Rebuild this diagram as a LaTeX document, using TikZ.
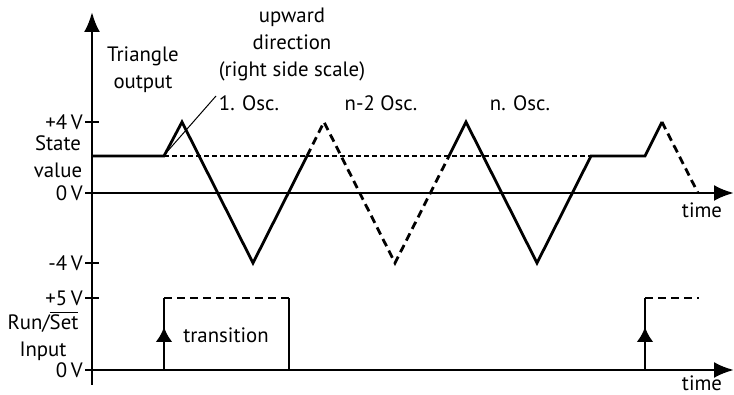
\documentclass[tikz,border=0pt]{standalone}
\usepackage{fontspec}
\setmainfont{PT Sans}
\usetikzlibrary{
    arrows.meta
}
\tikzset{
    axis/.style={
        -{Latex[length=10pt, width=8pt]},
        line width=1.4pt
    },
    wave/.style={
        line width=1.4pt,
        line join=miter
    },
    dashedwave/.style={
        wave,
        dash pattern=on 4pt off 2.5pt
    },
    level/.style={
        line width=0.7pt,
        dash pattern=on 2.5pt off 1.5pt
    },
    leader/.style={
        line width=0.5pt
    },
    edge/.style={
        -{Latex[length=7.5pt, width=8.5pt]},
        line width=1.4pt
    },
    lbl/.style={
        font=\fontsize{10.4}{13.5}\selectfont,
        align=center,
        inner sep=1pt
    },
    vlbl/.style={
        lbl,
        anchor=east
    }
}

\begin{document}
\begin{tikzpicture}[x=0.5pt, y=0.5pt]
\useasboundingbox (0,0) rectangle (734,395);

% axes
\draw[axis] (92,10) -- (92,383);
\draw[axis] (92,202) -- (734,202);
\draw[axis] (92,25) -- (734,25);
\foreach \yv in {273,202,132,97,25}
    \draw[line width=1.4pt] (85,\yv) -- (99,\yv);

% axis labels
\node[vlbl] (p4) at (85,273) {+4\,V};
\node[lbl] (state) at (58,238) {State\\value};
\node[vlbl] (z1) at (85,202) {0\,V};
\node[vlbl] (m4) at (85,132) {-4\,V};
\node[vlbl] (p5) at (85,97) {+5\,V};
\node[lbl] (runset) at (43,59) {Run/$\overline{\mbox{Set}}$\\Input};
\node[vlbl] (z2) at (85,25) {0\,V};
\node[lbl] (time1) at (702,185) {time};
\node[lbl, anchor=south, inner sep=0pt] (time2) at (702,4) {time};
\node[lbl] (trilbl) at (143,325) {Triangle\\output};

% triangle output
\draw[level] (164,239) -- (591,239);
\draw[wave] (92,239) -- (164,239) -- (182,273) -- (253,132) -- (307,239);
\draw[dashedwave] (307,239) -- (324,273) -- (395,132) -- (449,239);
\draw[wave] (449,239) -- (466,273) -- (537,132) -- (591,239)
    -- (645,239) -- (662,273);
\draw[dashedwave] (662,273) -- (698,202);

% oscillation labels
\node[lbl] (up) at (292,350) {upward\\direction\\(right side scale)};
\node[lbl] (osc1) at (249,292) {1. Osc.};
\node[lbl] (osc2) at (381,292) {n-2 Osc.};
\node[lbl] (oscn) at (520,292) {n. Osc.};
\coordinate (hint) at (216,299);
\coordinate (rise) at (166,242);
\draw[leader] (hint) -- (rise);

% run/set input
\draw[edge] (164,25) -- (164,68);
\draw[wave] (164,66) -- (164,97);
\draw[dashedwave] (164,97) -- (289,97);
\draw[wave] (289,97) -- (289,25);
\node[lbl] (trans) at (226,60) {transition};
\draw[edge] (645,25) -- (645,68);
\draw[wave] (645,66) -- (645,97);
\draw[dashedwave] (645,97) -- (699,97);

\end{tikzpicture}
\end{document}
